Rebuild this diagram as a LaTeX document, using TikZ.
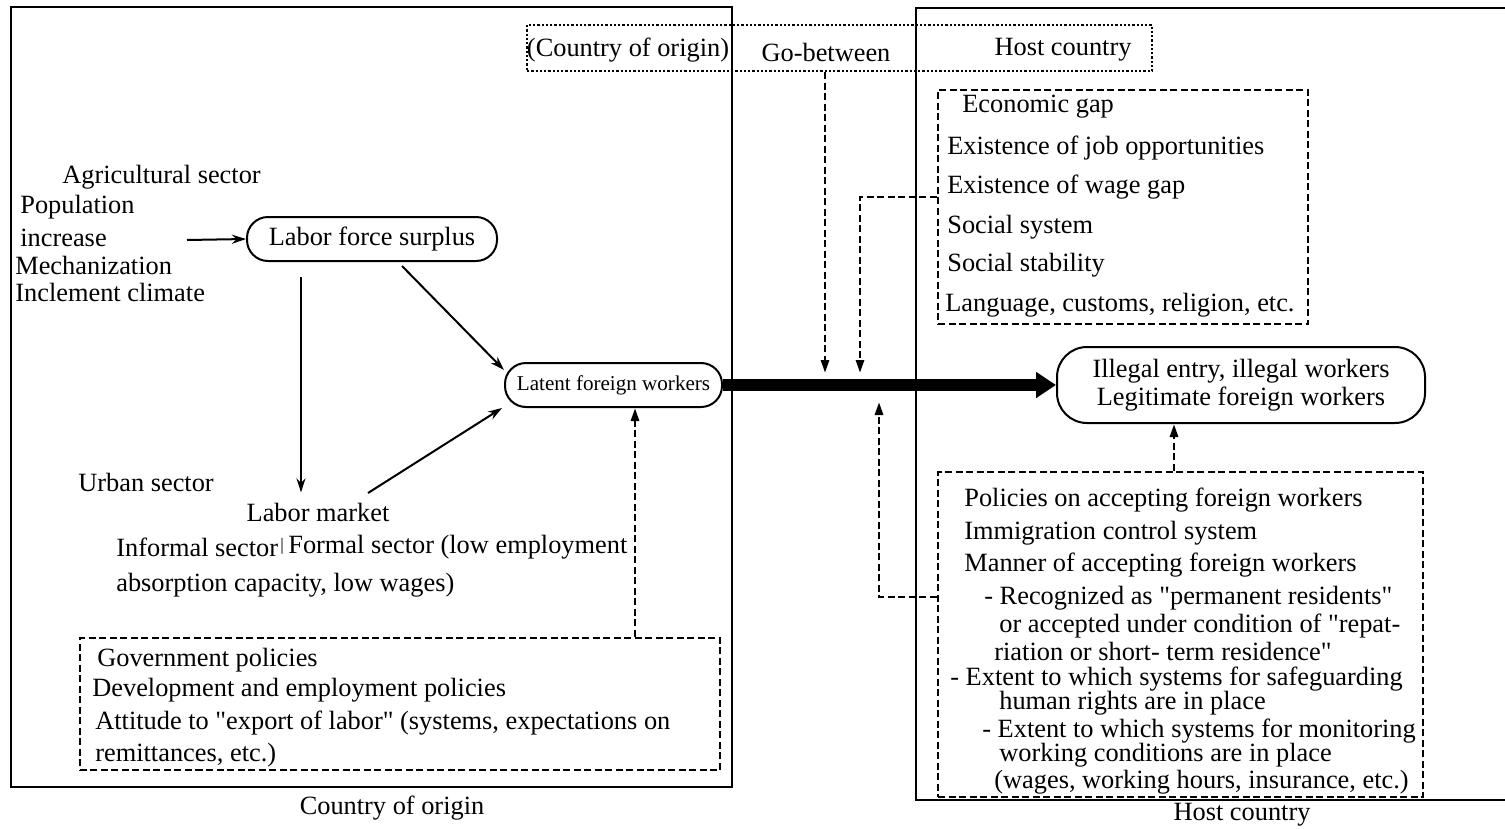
\documentclass[tikz,border=0pt]{standalone}
\usepackage{fontspec}
\setmainfont{Liberation Serif}
\usetikzlibrary{arrows.meta}
\newcommand{\dq}{\textquotedbl}

\begin{document}
\begin{tikzpicture}[x=0.2mm, y=-0.2mm,
		txt/.style={inner sep=0pt, anchor=west, font=\fontsize{15pt}{16pt}\selectfont},
		ctxt/.style={inner sep=0pt, font=\fontsize{15pt}{16pt}\selectfont},
		framerule/.style={line width=0.5mm},
		pill/.style={draw, line width=0.4mm, rounded corners=4.2mm, inner sep=0pt},
		dashbox/.style={draw, line width=0.55mm, dash pattern=on 1.4mm off 0.7mm, inner sep=0pt},
		dotbox/.style={draw, line width=0.45mm, dash pattern=on 0.45mm off 0.4mm, inner sep=0pt},
		arr/.style={line width=0.4mm, -{Stealth[length=2.8mm, width=1.8mm]}},
		dasharr/.style={line width=0.55mm, dash pattern=on 1.4mm off 0.7mm, -{Triangle[length=2.6mm, width=1.6mm]}},
		bigarr/.style={line width=2.4mm, -{Triangle[length=4mm, width=5mm]}}]
		%%%%% START %%%%%
		
		\useasboundingbox (0,0) rectangle (1505,828);
		
		\draw[framerule] (11,7) rectangle (732,787);
		\draw[framerule] (1505,8) -- (916,8) -- (916,800) -- (1505,800);
		\node[ctxt] (origlbl) at (392,808) {Country of origin};
		\node[ctxt] (hostlbl) at (1242,815) {Host country};
		
		\node[dotbox, minimum width=125mm, minimum height=9.2mm] (topbox) at (839.5,48) {};
		\node[ctxt] (origtop) at (628,50) {(Country of origin)};
		\node[ctxt] (gobetween) at (826,52) {Go-between};
		\node[ctxt] (hosttop) at (1063,50) {Host country};
		
		\node[txt] (agri) at (62,177) {Agricultural sector};
		\node[txt] (popl) at (20,207) {Population};
		\node[txt] (incr) at (20,238) {increase};
		\node[txt] (mech) at (15,265) {Mechanization};
		\node[txt] (climate) at (15,292) {Inclement climate};
		
		\node[pill, minimum width=50mm, minimum height=8.8mm, ctxt] (labor) at (372,239) {Labor force surplus};
		\node[pill, minimum width=43.4mm, minimum height=8.8mm, inner sep=0pt, font=\fontsize{12pt}{13pt}\selectfont] (latent) at (613.5,385) {Latent foreign workers};
		\node[pill, rounded corners=6mm, minimum width=73.6mm, minimum height=15.2mm, align=center, ctxt] (illegal) at (1241,385) {Illegal entry, illegal workers\\Legitimate foreign workers};
		
		\node[txt] (urban) at (78,482) {Urban sector};
		\node[ctxt] (lmarket) at (318,512) {Labor market};
		\node[txt] (informal) at (116,547) {Informal sector};
		\node[txt, font=\fontsize{10pt}{10pt}\selectfont] (sectsep) at (280,546) {|};
		\node[txt] (formal) at (288,547) {Formal sector (low employment};
		\node[txt] (absorb) at (116,585) {absorption capacity, low wages)};
		
		\coordinate (popin) at (187,240);
		\draw[arr] (popin) -- (labor.west);
		\coordinate (lmtop) at (301,277);
		\draw[arr] (lmtop) -- ([yshift=2mm]lmarket.north -| lmtop);
		\draw[arr] ([xshift=6mm,yshift=-0.8mm]labor.south) -- ([yshift=3mm]latent.west);
		\coordinate (lmout) at (368,493);
		\draw[arr] (lmout) -- ([xshift=-0.4mm]latent.south west);
		
		\node[dashbox, minimum width=128mm, minimum height=26.4mm] (govbox) at (400,704) {};
		\node[txt] (govpol) at (97,660) {Government policies};
		\node[txt] (devpol) at (92,690) {Development and employment policies};
		\node[txt] (attitude) at (95,723) {Attitude to \dq export of labor\dq\ (systems, expectations on};
		\node[txt] (remit) at (95,755) {remittances, etc.)};
		\draw[dasharr] ([xshift=47mm]govbox.north) -- ([xshift=47mm]govbox.north |- latent.south);
		
		\node[dashbox, minimum width=74mm, minimum height=46.8mm] (hostbox) at (1123,207) {};
		\node[txt] (econ) at (962,107) {Economic gap};
		\node[txt] (jobs) at (947,148) {Existence of job opportunities};
		\node[txt] (wagegap) at (947,187) {Existence of wage gap};
		\node[txt] (socsys) at (947,227) {Social system};
		\node[txt] (socstab) at (947,265) {Social stability};
		\node[txt] (lang) at (945,305) {Language, customs, religion, etc.};
		
		\node[dashbox, minimum width=97mm, minimum height=65mm] (polbox) at (1180.5,634.5) {};
		\node[txt] (polacc) at (964,500) {Policies on accepting foreign workers};
		\node[txt] (immig) at (964,533) {Immigration control system};
		\node[txt] (manner) at (964,565) {Manner of accepting foreign workers};
		\node[txt] (recog) at (984,598) {- Recognized as \dq permanent residents\dq};
		\node[txt] (cond) at (999,626) {or accepted under condition of \dq repat-};
		\node[txt] (riation) at (994,651) {riation or short- term residence\dq};
		\node[txt] (safeg) at (950,679) {- Extent to which systems for safeguarding};
		\node[txt] (rights) at (999,703) {human rights are in place};
		\node[txt] (monit) at (982,731) {- Extent to which systems for monitoring};
		\node[txt] (workcond) at (999,755) {working conditions are in place};
		\node[txt] (wages) at (994,782) {(wages, working hours, insurance, etc.)};
		
		\draw[bigarr] (latent.east) -- (illegal.west);
		
		\coordinate (gbend) at (825,373);
		\draw[dasharr] (topbox.south -| gbend) -- (gbend);
		\coordinate (wgend) at (860,373);
		\draw[dasharr] ([yshift=2mm]hostbox.west) -| (wgend);
		\coordinate (plend) at (879,402);
		\draw[dasharr] ([yshift=7.5mm]polbox.west) -| (plend);
		\draw[dasharr] ([xshift=-1.3mm]polbox.north) -- ([xshift=-1.3mm]polbox.north |- illegal.south);
		
		%%%%% END %%%%%
\end{tikzpicture}
\end{document}
